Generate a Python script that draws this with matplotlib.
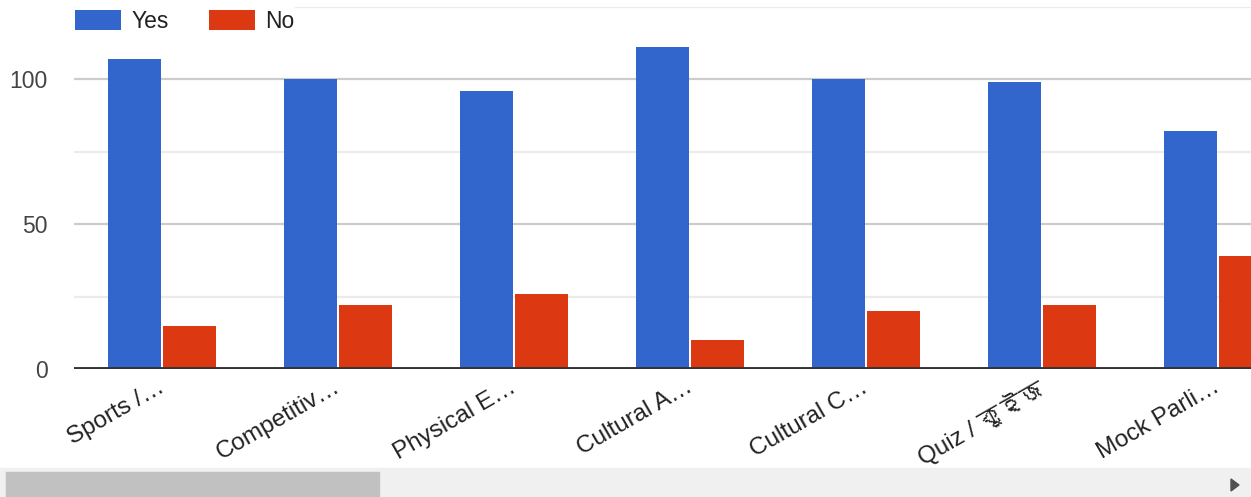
import matplotlib
matplotlib.use("Agg")
import matplotlib.pyplot as plt
from matplotlib import font_manager
from matplotlib.ft2font import FT2Font
from matplotlib.patches import Rectangle, Polygon
import numpy as np

# Survey answers per activity
categories = ["Sports /\u2026", "Competitiv\u2026", "Physical E\u2026", "Cultural A\u2026",
              "Cultural C\u2026", "Quiz / কুইজ", "Mock Parli\u2026"]
yes = [107, 100, 96, 111, 100, 99, 82]
no = [15, 22, 26, 10, 20, 22, 39]
major_ticks = [0, 50, 100]
minor_ticks = [25, 75, 125]

BLUE = "#3366cc"
RED = "#dc3912"
TEXT = "#444444"


def find_family(ch):
    # look for any installed font that has a glyph for ch
    for f in font_manager.fontManager.ttflist:
        try:
            if ord(ch) in FT2Font(f.fname).get_charmap():
                return f.name
        except Exception:
            pass
    return None


families = ['Liberation Sans', 'Noto Sans', 'DejaVu Sans']
beng = find_family("ক")
if beng and beng not in families:
    families.append(beng)
plt.rcParams['font.family'] = families

W, H = 1251, 497
fig = plt.figure(figsize=(W / 100, H / 100), dpi=100)

# axes placed in pixel units of the reference
left, right, bottom, top = 74, 1251, 369, 6.5
ax = fig.add_axes([left / W, 1 - bottom / H, (right - left) / W, (bottom - top) / H])

x = np.arange(len(categories))
bw = 0.30
off = 0.157
ax.bar(x - off, yes, width=bw, color=BLUE, label="Yes", zorder=3)
ax.bar(x + off, no, width=bw, color=RED, label="No", zorder=3)

ax.set_xlim(-0.5, (right - 162) / 176)
ax.set_ylim(0, 125)

for v in major_ticks[1:]:
    ax.axhline(v, color="#cccccc", lw=1.6, zorder=1)
for v in minor_ticks:
    ax.axhline(v, color="#ebebeb", lw=1.6, zorder=1)
ax.axhline(0, color="#333333", lw=2.8, zorder=4)

for s in ax.spines.values():
    s.set_visible(False)

ax.set_yticks(major_ticks)
ax.set_yticklabels([str(v) for v in major_ticks])
ax.tick_params(axis="y", length=0, pad=19, labelsize=16.5, labelcolor=TEXT)

ax.set_xticks(x - 0.03)
ax.set_xticklabels(categories, rotation=30, ha="right", va="top", rotation_mode="anchor")
ax.tick_params(axis="x", length=0, pad=5, labelsize=17.5, labelcolor="#222222")

leg = ax.legend(loc="upper left", bbox_to_anchor=(-0.001, 0.998), ncol=2, frameon=True,
                fontsize=16.5, handlelength=2.0, handleheight=0.95, handletextpad=0.45,
                columnspacing=1.75, borderaxespad=0, borderpad=0.1)
leg.get_frame().set_edgecolor("white")
leg.get_frame().set_facecolor("white")
leg.get_frame().set_alpha(1)
for t in leg.get_texts():
    t.set_color("#222222")

# horizontal scrollbar at the bottom
fig.patches.append(Rectangle((0, 0), 1, 29 / H, transform=fig.transFigure,
                             color="#f0f0f0", zorder=0))
fig.patches.append(Rectangle((6 / W, 0), (379 - 6) / W, 25 / H, transform=fig.transFigure,
                             color="#c1c1c1", zorder=1))
fig.patches.append(Polygon([(1231 / W, 18 / H), (1231 / W, 6 / H), (1239 / W, 12 / H)],
                           closed=True, transform=fig.transFigure, color="#505050", zorder=2))

fig.savefig("out.png", dpi=100)
